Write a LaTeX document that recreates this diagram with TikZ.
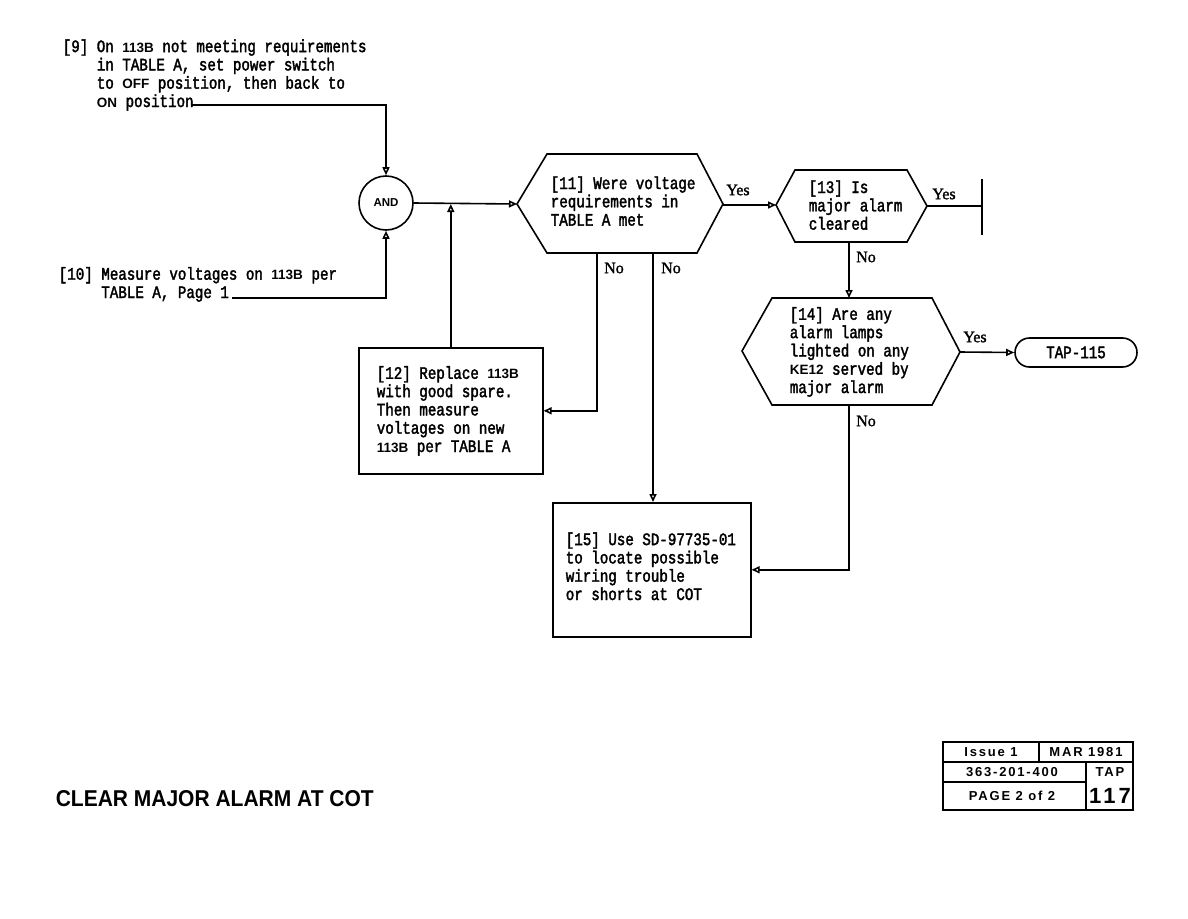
\documentclass[tikz,border=0pt]{standalone}
\usepackage{fontspec}
\usetikzlibrary{arrows.meta}
\newfontfamily\tw{Liberation Mono}[FakeStretch=0.81,FakeBold=2]
\newfontfamily\sansb{Liberation Sans}
\newfontfamily\tbf{Liberation Sans}[LetterSpace=14]
\newfontfamily\lab{Liberation Serif}[FakeBold=1.5]
\newcommand\bsf[1]{{\sansb\bfseries\fontsize{13.5}{13.5}\selectfont #1}}
\begin{document}
\begin{tikzpicture}[x=1pt,y=-1pt,line width=1.6pt,
  arr/.style={-{Triangle[open,length=8pt,width=7pt]}},
  txt/.style={anchor=base west,inner sep=0,align=left,font=\tw\fontsize{17.5}{18.3}\selectfont},
  lbl/.style={inner sep=0,font=\lab\fontsize{16}{16}\selectfont},
  boxnode/.style={draw,inner sep=0,anchor=north west},
  tbtext/.style={inner sep=0,font=\tbf\bfseries\fontsize{13}{13}\selectfont}]
\useasboundingbox (0,0) rectangle (1188,918);
% texts 9 and 10 (anchored at baseline of last line)
\node[txt] (t9) at (62,107) {[9] On \bsf{113B} not meeting requirements\\
\phantom{[9] }in TABLE A, set power switch\\
\phantom{[9] }to \bsf{OFF} position, then back to\\
\phantom{[9] }\bsf{ON} position};
\node[txt] (t10) at (58,298) {[10] Measure voltages on \bsf{113B} per\\
\phantom{[10] }TABLE A, Page 1};
\coordinate (e9) at (192,105);
\coordinate (e10) at (232,298);
% AND
\node[draw,circle,minimum size=54pt,inner sep=0,font=\sansb\bfseries\fontsize{11.5}{11.5}\selectfont] (and) at (386,203) {AND};
% hexagon 11
\coordinate (h11w) at (517,204);
\coordinate (h11e) at (723,205);
\coordinate (h11s1) at (597,253);
\coordinate (h11s2) at (653,253);
\draw (h11w) -- (547,154) -- (697,154) -- (723,204) -- (697,253) -- (547,253) -- cycle;
\node[txt] (t11) at (550,225.6) {[11] Were voltage\\requirements in\\TABLE A met};
% hexagon 13
\coordinate (h13w) at (776,205);
\coordinate (h13e) at (927,206);
\coordinate (h13s) at (849,242);
\draw (h13w) -- (795,170) -- (907,170) -- (h13e) -- (907,242) -- (795,242) -- cycle;
\node[txt] (t13) at (808,229.6) {[13] Is\\major alarm\\cleared};
\coordinate (stop) at (982,206);
\coordinate (stopt) at (982,179);
\coordinate (stopb) at (982,235);
% hexagon 14
\coordinate (h14n) at (849,298);
\coordinate (h14e) at (960,352);
\coordinate (h14s) at (849,405);
\draw (742,351) -- (772,298) -- (932,298) -- (h14e) -- (932,405) -- (772,405) -- cycle;
\node[txt] (t14) at (789,393) {[14] Are any\\alarm lamps\\lighted on any\\\bsf{KE12} served by\\major alarm};
% TAP-115
\node[draw,rounded corners=14.5pt,minimum width=122pt,minimum height=29pt,inner sep=0,font=\tw\fontsize{17.5}{17.5}\selectfont] (tap) at (1076,352.5) {TAP-115};
% box 12
\node[boxnode,minimum width=184pt,minimum height=126pt] (b12) at (358,347) {};
\node[txt] (t12) at (376,452) {[12] Replace \bsf{113B}\\with good spare.\\Then measure\\voltages on new\\\bsf{113B} per TABLE A};
% box 15
\node[boxnode,minimum width=198pt,minimum height=134pt] (b15) at (552,502) {};
\node[txt] (t15) at (565,600) {[15] Use SD-97735-01\\to locate possible\\wiring trouble\\or shorts at COT};
% labels
\node[lbl] (y11) at (738,190) {Yes};
\node[lbl] (n11a) at (614,268) {No};
\node[lbl] (n11b) at (671,268) {No};
\node[lbl] (y13) at (944,194) {Yes};
\node[lbl] (n13) at (866,257) {No};
\node[lbl] (y14) at (975,337) {Yes};
\node[lbl] (n14) at (866,421) {No};
% connectors
\draw[arr] (e9) -| (and.north);
\draw[arr] (e10) -| (and.south);
\draw[arr] (and.east) -- (h11w);
\draw[arr] (b12.north) -- (b12.north |- h11w);
\draw[arr] (h11e) -- (h13w);
\draw (h13e) -- (stop);
\draw (stopt) -- (stopb);
\draw[arr] (h13s) -- (h14n);
\draw[arr] (h14e) -- (tap.west);
\draw[arr] (h14s) |- (b15.east);
\draw[arr] (h11s1) |- (b12.east);
\draw[arr] (h11s2) -- (h11s2 |- b15.north);
% title
\node[inner sep=0,anchor=west] (title) at (55,799) {\resizebox{318pt}{16pt}{\sansb\bfseries CLEAR MAJOR ALARM AT COT}};
% title block
\draw (943,742) rectangle (1133,810);
\draw (943,762) -- (1133,762);
\draw (943,782) -- (1086,782);
\draw (1039,742) -- (1039,762);
\draw (1086,762) -- (1086,810);
\node[tbtext] (issue) at (991,752) {Issue 1};
\node[tbtext] (mar) at (1086,752) {MAR 1981};
\node[tbtext] (doc) at (1012,772) {363-201-400};
\node[tbtext] (tapl) at (1110,772) {TAP};
\node[tbtext] (page) at (1012,796) {PAGE 2 of 2};
\node[inner sep=0,font=\tbf\bfseries\fontsize{22}{22}\selectfont] (num) at (1110,796) {117};
\end{tikzpicture}
\end{document}
